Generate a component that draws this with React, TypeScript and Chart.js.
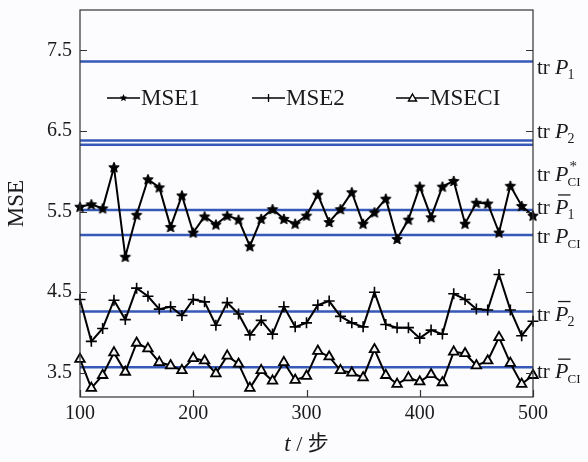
import { useEffect, useRef } from 'react';
import { Chart, registerables } from 'chart.js';
Chart.register(...registerables);

const steps = [100, 110, 120, 130, 140, 150, 160, 170, 180, 190, 200, 210, 220, 230, 240, 250, 260, 270, 280, 290, 300, 310, 320, 330, 340, 350, 360, 370, 380, 390, 400, 410, 420, 430, 440, 450, 460, 470, 480, 490, 500];
const mse1 = [5.56, 5.59, 5.54, 6.05, 4.94, 5.46, 5.90, 5.80, 5.31, 5.70, 5.24, 5.44, 5.34, 5.45, 5.40, 5.07, 5.41, 5.53, 5.41, 5.35, 5.45, 5.71, 5.37, 5.53, 5.74, 5.35, 5.49, 5.66, 5.16, 5.40, 5.81, 5.43, 5.81, 5.88, 5.35, 5.61, 5.60, 5.24, 5.82, 5.57, 5.45];
const mse2 = [4.41, 3.89, 4.05, 4.40, 4.16, 4.55, 4.45, 4.29, 4.32, 4.21, 4.41, 4.38, 4.09, 4.37, 4.23, 3.97, 4.15, 3.98, 4.32, 4.07, 4.12, 4.34, 4.39, 4.20, 4.12, 4.07, 4.50, 4.10, 4.06, 4.06, 3.93, 4.03, 3.98, 4.48, 4.41, 4.29, 4.28, 4.72, 4.28, 3.96, 4.14];
const mseci = [3.67, 3.31, 3.47, 3.75, 3.51, 3.87, 3.80, 3.63, 3.59, 3.53, 3.68, 3.65, 3.49, 3.71, 3.61, 3.31, 3.53, 3.40, 3.63, 3.41, 3.46, 3.77, 3.70, 3.53, 3.50, 3.44, 3.79, 3.47, 3.36, 3.44, 3.39, 3.48, 3.38, 3.76, 3.74, 3.59, 3.65, 3.94, 3.62, 3.36, 3.47];
const seriesNames = ['MSE1', 'MSE2', 'MSECI'];

// reference trace lines
const refValues = [7.36, 6.38, 6.33, 5.52, 5.21, 4.26, 3.57];
const refSubs = ['1', '2', 'CI', '1', 'CI', '2', 'CI'];
const refSups = ['', '', '*', '', '', '', ''];
const refBars = [false, false, false, true, false, true, true];
const refLabelDy = [12, -3, 36, 4, 8, 9, 11];

const xTicks = [100, 200, 300, 400, 500];
const yTicks = [3.5, 4.5, 5.5, 6.5, 7.5];
const yMin = 3.2;
const yMax = 8.0;

const SERIF = '"Liberation Serif", "Times New Roman", serif';
const BLUE = '#3658b6';

function makeStar(r: number) {
  const size = Math.ceil(r * 2 + 3);
  const c = document.createElement('canvas');
  c.width = size;
  c.height = size;
  const g = c.getContext('2d')!;
  g.translate(size / 2, size / 2 + 0.5);
  drawStarPath(g, r);
  g.fillStyle = '#000';
  g.fill();
  g.lineWidth = 1;
  g.strokeStyle = '#000';
  g.stroke();
  return c;
}
function drawStarPath(g: CanvasRenderingContext2D, r: number) {
  g.beginPath();
  for (let i = 0; i < 10; i++) {
    const rad = i % 2 === 0 ? r : r * 0.45;
    const a = -Math.PI / 2 + (i * Math.PI) / 5;
    g.lineTo(rad * Math.cos(a), rad * Math.sin(a));
  }
  g.closePath();
}

const decorPlugin = {
  id: 'decor',
  beforeDraw(chart: any) {
    const ctx = chart.ctx;
    ctx.save();
    ctx.fillStyle = '#fcfcfe';
    ctx.fillRect(0, 0, chart.width, chart.height);
    ctx.restore();
  },
  afterDraw(chart: any) {
    const ctx: CanvasRenderingContext2D = chart.ctx;
    const { left, right, top, bottom } = chart.chartArea;
    const xs = chart.scales.x;
    const ys = chart.scales.y;
    ctx.save();
    // frame
    ctx.strokeStyle = '#333';
    ctx.lineWidth = 1.2;
    ctx.strokeRect(left, top, right - left, bottom - top);
    // inward ticks
    ctx.beginPath();
    yTicks.forEach((v) => {
      const y = Math.round(ys.getPixelForValue(v)) + 0.5;
      ctx.moveTo(left, y);
      ctx.lineTo(left + 7, y);
      ctx.moveTo(right, y);
      ctx.lineTo(right - 7, y);
    });
    xTicks.forEach((v) => {
      const x = Math.round(xs.getPixelForValue(v)) + 0.5;
      ctx.moveTo(x, bottom);
      ctx.lineTo(x, bottom - 7);
    });
    ctx.stroke();

    // y title
    ctx.fillStyle = '#1a1a1a';
    ctx.save();
    ctx.translate(17, (top + bottom) / 2);
    ctx.rotate(-Math.PI / 2);
    ctx.font = `23px ${SERIF}`;
    ctx.textAlign = 'center';
    ctx.textBaseline = 'middle';
    ctx.fillText('MSE', 0, 0);
    ctx.restore();

    // x title: t / 步
    {
      const fT = `italic 23px ${SERIF}`;
      const fS = `22px ${SERIF}`;
      const fC = `21px "Noto Sans CJK SC", sans-serif`;
      ctx.font = fT;
      const w1 = ctx.measureText('t').width;
      ctx.font = fS;
      const w2 = ctx.measureText(' / ').width;
      ctx.font = fC;
      const w3 = ctx.measureText('步').width;
      const total = w1 + w2 + w3;
      let x = (left + right) / 2 - total / 2;
      const base = 451;
      ctx.textAlign = 'left';
      ctx.textBaseline = 'alphabetic';
      ctx.font = fT;
      ctx.fillText('t', x, base);
      x += w1;
      ctx.font = fS;
      ctx.fillText(' / ', x, base);
      x += w2;
      ctx.font = fC;
      ctx.fillText('步', x, base - 1);
    }

    // legend
    {
      const ly = top + 88;
      const starts = [left + 27, left + 172, left + 316];
      ctx.textBaseline = 'middle';
      ctx.textAlign = 'left';
      seriesNames.forEach((name, i) => {
        const x1 = starts[i];
        const x2 = x1 + 33;
        ctx.strokeStyle = '#000';
        ctx.lineWidth = 1.5;
        ctx.beginPath();
        ctx.moveTo(x1, ly);
        ctx.lineTo(x2, ly);
        ctx.stroke();
        const cx = (x1 + x2) / 2;
        if (i === 0) {
          ctx.save();
          ctx.translate(cx, ly);
          drawStarPath(ctx, 4);
          ctx.fillStyle = '#000';
          ctx.fill();
          ctx.restore();
        } else if (i === 1) {
          ctx.beginPath();
          ctx.moveTo(cx, ly - 4);
          ctx.lineTo(cx, ly + 4);
          ctx.lineWidth = 1.3;
          ctx.stroke();
        } else {
          ctx.beginPath();
          ctx.moveTo(cx, ly - 4);
          ctx.lineTo(cx + 4, ly + 3);
          ctx.lineTo(cx - 4, ly + 3);
          ctx.closePath();
          ctx.fillStyle = '#fff';
          ctx.fill();
          ctx.lineWidth = 1.4;
          ctx.stroke();
        }
        ctx.fillStyle = '#1a1a1a';
        ctx.font = `23px ${SERIF}`;
        ctx.fillText(name, x2 + 1, ly + 1);
      });
    }

    // right labels
    refValues.forEach((v, i) => {
      const base = ys.getPixelForValue(v) + refLabelDy[i];
      let x = right + 4;
      ctx.fillStyle = '#1a1a1a';
      ctx.textAlign = 'left';
      ctx.textBaseline = 'alphabetic';
      ctx.font = `21px ${SERIF}`;
      ctx.fillText('tr', x, base);
      x += ctx.measureText('tr ').width;
      ctx.font = `italic 22px ${SERIF}`;
      const pw = ctx.measureText('P').width;
      ctx.fillText('P', x, base);
      if (refBars[i]) {
        ctx.strokeStyle = '#1a1a1a';
        ctx.lineWidth = 1.3;
        ctx.beginPath();
        ctx.moveTo(x + 3, base - 19);
        ctx.lineTo(x + pw + 2, base - 19);
        ctx.stroke();
      }
      const sx = x + pw - 1;
      const sub = refSubs[i];
      ctx.font = sub === 'CI' ? `13px ${SERIF}` : `14px ${SERIF}`;
      ctx.fillText(sub, sx, base + 5);
      if (refSups[i]) {
        ctx.font = `15px ${SERIF}`;
        ctx.fillText(refSups[i], sx + 2, base - 10);
      }
    });
    ctx.restore();
  },
};

export default function App() {
  const ref = useRef<HTMLCanvasElement | null>(null);
  useEffect(() => {
    document.body.style.margin = '0';
    const canvas = ref.current!;
    const star = makeStar(5.5);
    const toPts = (arr: number[]) => steps.map((t, i) => ({ x: t, y: arr[i] }));
    const series = [
      { label: seriesNames[0], data: toPts(mse1), pointStyle: star as any, pointRadius: 6, pointBackgroundColor: '#000', pointBorderColor: '#000', pointBorderWidth: 1 },
      { label: seriesNames[1], data: toPts(mse2), pointStyle: 'cross', pointRadius: 5.5, pointBorderColor: '#000', pointBorderWidth: 1.6 },
      { label: seriesNames[2], data: toPts(mseci), pointStyle: 'triangle', pointRadius: 5.5, pointBackgroundColor: '#f4f4f4', pointBorderColor: '#000', pointBorderWidth: 1.8 },
    ].map((d) => ({ ...d, borderColor: '#000', borderWidth: 2, tension: 0, clip: false as any, fill: false }));
    const refs = refValues.map((v, i) => ({
      label: 'ref' + i,
      data: [{ x: steps[0], y: v }, { x: steps[steps.length - 1], y: v }],
      borderColor: BLUE,
      borderWidth: 2.5,
      pointRadius: 0,
      fill: false,
    }));
    const chart = new Chart(canvas, {
      type: 'line',
      data: { datasets: [...series, ...refs] as any },
      options: {
        animation: false,
        responsive: false,
        devicePixelRatio: 1,
        layout: { padding: { top: 10, right: 55, left: 0, bottom: 0 } },
        plugins: { legend: { display: false }, tooltip: { enabled: false } },
        scales: {
          x: {
            type: 'linear',
            min: 100,
            max: 500,
            grid: { display: false, drawTicks: false },
            border: { display: false },
            afterBuildTicks: (s: any) => { s.ticks = xTicks.map((v) => ({ value: v })); },
            afterFit: (s: any) => { s.height = 65; s.paddingLeft = 0; s.paddingRight = 0; },
            ticks: { padding: 5, color: '#1a1a1a', font: { family: SERIF, size: 20 }, maxRotation: 0, autoSkip: false },
          },
          y: {
            type: 'linear',
            min: yMin,
            max: yMax,
            grid: { display: false, drawTicks: false },
            border: { display: false },
            afterBuildTicks: (s: any) => { s.ticks = yTicks.map((v) => ({ value: v })); },
            afterFit: (s: any) => { s.width = 80; s.paddingTop = 0; s.paddingBottom = 0; },
            ticks: { padding: 8, color: '#1a1a1a', font: { family: SERIF, size: 20 }, callback: (v: any) => Number(v).toFixed(1) },
          },
        },
      },
      plugins: [decorPlugin],
    });
    return () => chart.destroy();
  }, []);
  return <canvas ref={ref} width={588} height={462} style={{ display: 'block' }} />;
}
